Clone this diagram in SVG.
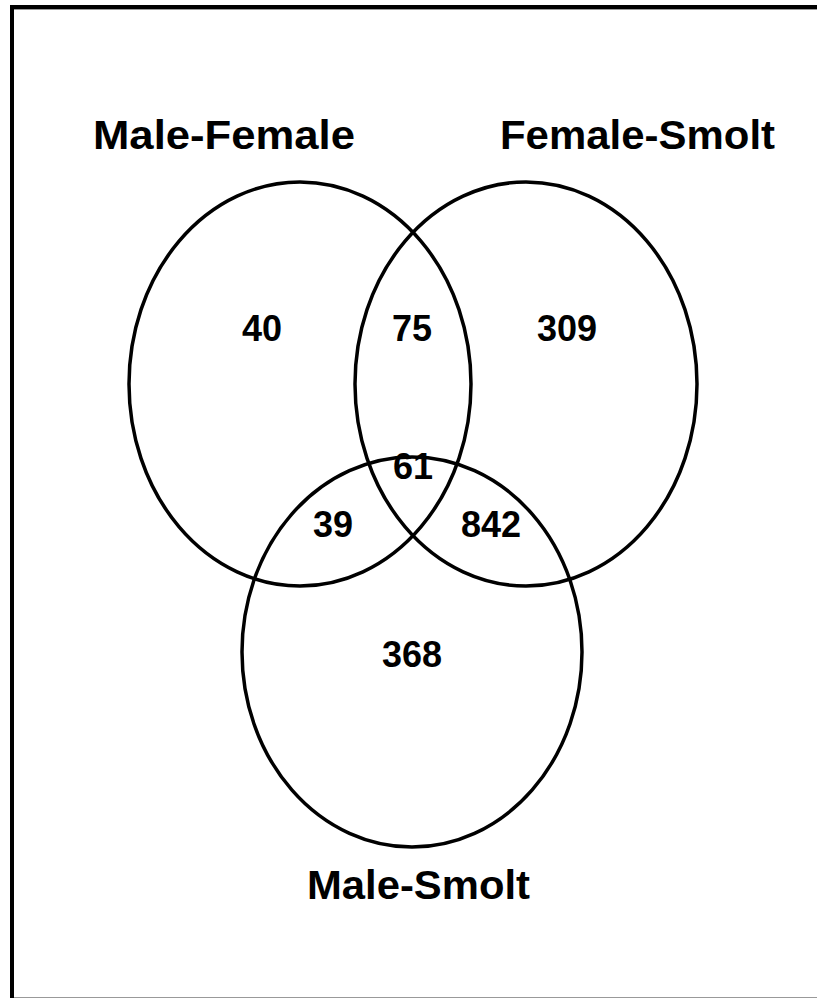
<svg xmlns="http://www.w3.org/2000/svg" width="817" height="998" viewBox="0 0 817 998">
<style>
.c{fill:none;stroke:#000;stroke-width:3.5}
.t{font-family:"Liberation Sans",Arial,sans-serif;font-weight:bold;fill:#000}
.n{font-size:36px;text-anchor:middle}
.h{font-size:41px}
</style>
<rect x="0" y="0" width="817" height="998" fill="#fff"/>
<g id="frame">
<rect x="10" y="5" width="807" height="4" fill="#000"/>
<rect x="10" y="5" width="4" height="993" fill="#000"/>
<line x1="14" y1="9.5" x2="817" y2="9.5" stroke="#999" stroke-width="1"/>
<line x1="14" y1="997.5" x2="817" y2="997.5" stroke="#999" stroke-width="1"/>
</g>
<g id="male-female">
<ellipse class="c" cx="300" cy="384" rx="171" ry="202"/>
<text class="t h" x="93" y="149" textLength="262" lengthAdjust="spacingAndGlyphs">Male-Female</text>
</g>
<g id="female-smolt">
<ellipse class="c" cx="526" cy="384" rx="171" ry="202"/>
<text class="t h" x="500" y="149" textLength="275" lengthAdjust="spacingAndGlyphs">Female-Smolt</text>
</g>
<g id="male-smolt">
<ellipse class="c" cx="412" cy="652" rx="170" ry="195"/>
<text class="t h" x="307" y="899" textLength="223" lengthAdjust="spacingAndGlyphs">Male-Smolt</text>
</g>
<g id="counts">
<text class="t n" x="262" y="341">40</text>
<text class="t n" x="412" y="341">75</text>
<text class="t n" x="567" y="341">309</text>
<text class="t n" x="413" y="479">61</text>
<text class="t n" x="333" y="537">39</text>
<text class="t n" x="491" y="537">842</text>
<text class="t n" x="412" y="667">368</text>
</g>
</svg>
